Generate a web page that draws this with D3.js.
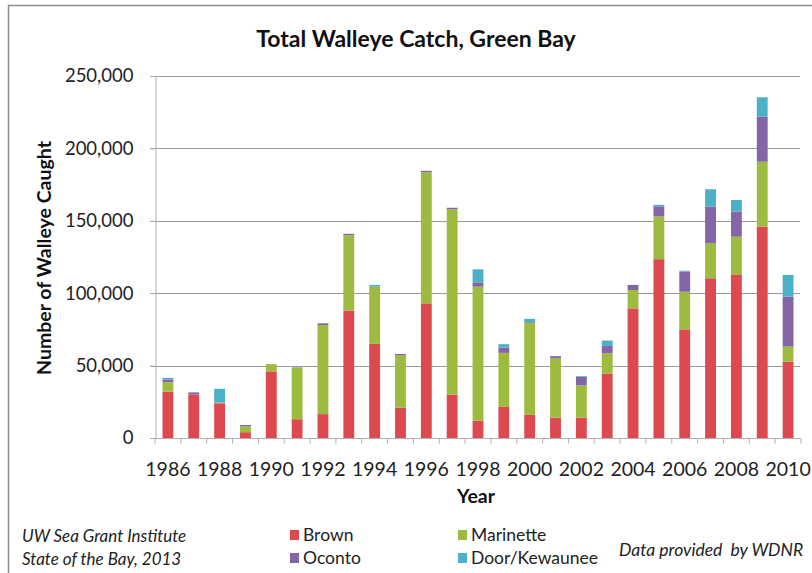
<!DOCTYPE html>
<html><head><meta charset="utf-8">
<script src="https://cdn.jsdelivr.net/npm/d3@7"></script>
<style>body{margin:0;background:#fff;}svg{display:block;font-family:Lato,"Open Sans",sans-serif;}</style>
</head><body>
<script>
const years = [1986,1987,1988,1989,1990,1991,1992,1993,1994,1995,1996,1997,1998,1999,2000,2001,2002,2003,2004,2005,2006,2007,2008,2009,2010];
const brown     = [32000,30000,24000,4000,46000,13000,16500,88000,65000,21000,93000,30000,12000,21500,16000,14000,14000,44500,89500,123500,75000,110300,113000,145900,52700];
const marinette = [6500,0,500,4000,5000,35500,61500,52000,39500,36000,90500,128000,92500,37300,63500,41000,22300,14000,12700,29500,26000,24200,26000,44900,10400];
const oconto    = [2000,1500,0,1000,0,300,1200,1000,0,1000,1000,1000,3000,3700,500,1500,6000,5100,3500,7000,14000,25300,17300,31100,34500];
const door      = [1000,0,9500,0,0,0,0,0,1200,0,0,0,9000,2300,2300,0,500,3700,0,1000,500,12000,8100,13400,15000];
const seriesNames = ["Brown","Marinette","Oconto","Door/Kewaunee"];
const colors = ["#dc4a50","#9dbb3f","#8466a6","#4cb0c8"];
const yTicks = [0,50000,100000,150000,200000,250000];
const xLabels = [1986,1988,1990,1992,1994,1996,1998,2000,2002,2004,2006,2008,2010];

const W=812,H=573;
const svg=d3.select("body").append("svg").attr("width",W).attr("height",H);
svg.append("rect").attr("x",0).attr("y",0).attr("width",W).attr("height",H).attr("fill","#fff");
svg.append("path").attr("d","M8.5,573 V5.5 H812").attr("fill","none").attr("stroke","#8c8c8c").attr("stroke-width",1.5);

const x=d3.scaleBand().domain(years).range([155,801]).paddingInner(0.58).paddingOuter(0.29);
const y=d3.scaleLinear().domain([0,250000]).range([438,76]);

svg.append("g").selectAll("line").data(yTicks).join("line")
  .attr("x1",150).attr("x2",800).attr("y1",d=>Math.round(y(d))+0.5).attr("y2",d=>Math.round(y(d))+0.5)
  .attr("stroke",d=>d===0?"#b8b8b8":"#9a9a9a").attr("stroke-width",1);

const ya=svg.append("g").attr("transform","translate(155.5,0)")
  .call(d3.axisLeft(y).tickValues(yTicks).tickSize(5).tickPadding(17).tickFormat(d3.format(",")));
ya.select(".domain").attr("stroke","#b0b0b0");
ya.selectAll(".tick line").attr("stroke","#b0b0b0");
ya.selectAll("text").attr("font-size",18.5).attr("fill","#222").attr("font-family","Lato,sans-serif");

const data=years.map((yr,i)=>({year:yr,Brown:brown[i],Marinette:marinette[i],Oconto:oconto[i],"Door/Kewaunee":door[i]}));
const stack=d3.stack().keys(seriesNames)(data);
svg.append("g").selectAll("g").data(stack).join("g").attr("fill",(d,i)=>colors[i])
  .selectAll("rect").data(d=>d).join("rect")
  .attr("x",d=>x(d.data.year)).attr("width",x.bandwidth())
  .attr("y",d=>y(d[1])).attr("height",d=>Math.max(0,y(d[0])-y(d[1])));

const xa=svg.append("g").attr("transform","translate(0,438.5)");
xa.append("line").attr("x1",155).attr("x2",801).attr("stroke","#b0b0b0");
const bounds=d3.range(years.length+1).map(i=>155+i*x.step());
xa.selectAll("line.t").data(bounds).join("line").attr("class","t")
  .attr("x1",d=>d).attr("x2",d=>d).attr("y1",0).attr("y2",5).attr("stroke","#b0b0b0");
xa.selectAll("text").data(xLabels).join("text")
  .attr("x",d=>x(d)+x.bandwidth()/2).attr("y",37).attr("text-anchor","middle")
  .attr("font-size",19.5).attr("fill","#222").text(d=>d);

svg.append("text").attr("x",416).attr("y",47).attr("text-anchor","middle")
  .attr("font-size",23).attr("font-weight","bold").attr("fill","#111").text("Total Walleye Catch, Green Bay");
svg.append("text").attr("transform","translate(51,258) rotate(-90)").attr("text-anchor","middle")
  .attr("font-size",19.5).attr("font-weight","bold").attr("fill","#111").text("Number of Walleye Caught");
svg.append("text").attr("x",476).attr("y",503).attr("text-anchor","middle")
  .attr("font-size",19.5).attr("font-weight","bold").attr("fill","#111").text("Year");

const foot=svg.append("g").attr("font-style","italic").attr("font-size",17).attr("fill","#222");
foot.append("text").attr("x",22).attr("y",542).text("UW Sea Grant Institute");
foot.append("text").attr("x",22).attr("y",565).text("State of the Bay, 2013");
foot.append("text").attr("x",619).attr("y",556).attr("font-size",17.5).style("white-space","pre").text("Data provided  by WDNR");

const legPos=[[290,541],[458,541],[290,564],[458,564]];
const leg=svg.append("g").selectAll("g").data(seriesNames).join("g")
  .attr("transform",(d,i)=>`translate(${legPos[i][0]},${legPos[i][1]})`);
leg.append("rect").attr("x",0).attr("y",-11).attr("width",9).attr("height",10).attr("fill",(d,i)=>colors[i]);
leg.append("text").attr("x",13).attr("y",0).attr("font-size",17.5).attr("fill","#222").text(d=>d);
</script>
</body></html>
